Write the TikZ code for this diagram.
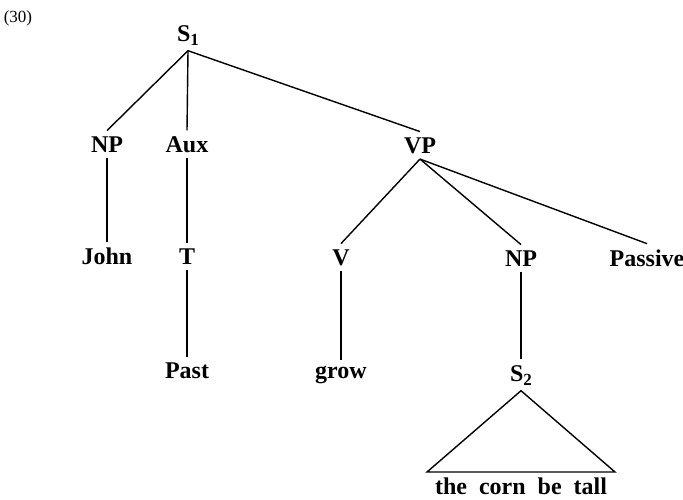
\documentclass[tikz,border=0pt]{standalone}
\usepackage{fontspec}
\setmainfont{Liberation Serif}
\usepackage{tikz}
\usetikzlibrary{positioning}

\newcommand{\sub}[1]{\raisebox{-2pt}{\fontsize{8.5}{9}\selectfont #1}}
\newcommand{\gap}{\hspace{0.5em}}

\begin{document}
\begin{tikzpicture}[x=0.5pt, y=-0.5pt, line width=0.7pt,
		cat/.style={anchor=base, inner sep=2.5pt, font=\fontsize{12}{14}\selectfont\bfseries}]
				\useasboundingbox (0,0) rectangle (683,499);
				\node[font=\fontsize{8.5}{10}\selectfont] (num) at (18,18) {(30)};
				
				\node[cat] (S1) at (188,41) {S\sub{1}};
				
				\node[cat] (NP) at (107,152) {NP};
				\node[cat] (Aux) at (187,152) {Aux};
				\node[cat] (VP) at (420,153) {VP};
				
				\node[cat] (John) at (107,264) {John};
				\node[cat] (T) at (187,264) {T};
				\node[cat] (V) at (341,265) {V};
				\node[cat] (NP2) at (521,266) {NP};
				\node[cat] (Pas) at (647,266) {Passive};
				
				\node[cat] (Past) at (187,378) {Past};
				\node[cat] (grow) at (341,378) {grow};
				\node[cat] (S2) at (521,381) {S\sub{2}};
				
				\node[cat, inner sep=0pt] (yield) at (521,494) {the\gap corn\gap be\gap tall};
				\coordinate (tl) at (427,472);
				\coordinate (tr) at (615,472);
				
				\draw (S1.south) -- (NP.north);
				\draw (S1.south) -- (Aux.north);
				\draw (S1.south) -- (VP.north);
				\draw (NP.south) -- (John.north);
				\draw (Aux.south) -- (T.north);
				\draw (T.south) -- (Past.north);
				\draw (VP.south) -- (V.north);
				\draw (VP.south) -- (NP2.north);
				\draw (VP.south) -- (Pas.north);
				\draw (V.south) -- (grow.north);
				\draw (NP2.south) -- (S2.north);
				\draw (tl) -- (S2.south) -- (tr) -- cycle;
			\end{tikzpicture}
\end{document}
